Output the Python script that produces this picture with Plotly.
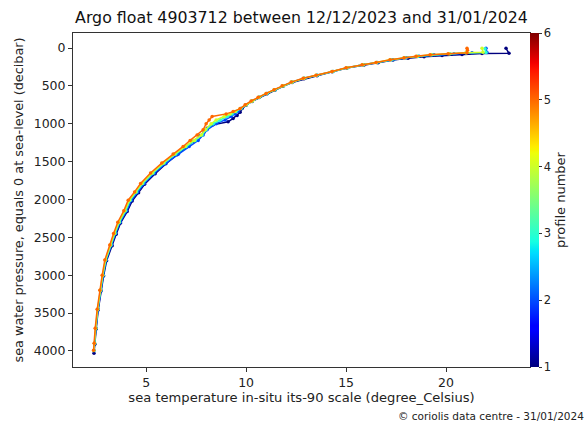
import plotly.graph_objects as go

# ---------------- data ----------------
profile_numbers = [1, 2, 3, 4, 5]

pres_1 = [5, 70, 72, 85, 100, 115, 135, 160, 195, 225, 265, 315, 365, 405, 455, 505, 555, 605, 655, 705, 755,
          800, 850, 890, 930, 975, 1015, 1060, 1110, 1160, 1230, 1310, 1410, 1530, 1660, 1800, 1910, 2020, 2160,
          2310, 2460, 2610, 2810, 3010, 3210, 3460, 3710, 3910, 4030]
temp_1 = [23.0, 23.15, 21.8, 20.8, 19.8, 18.9, 18.1, 17.35, 16.6, 15.9, 15.05, 14.3, 13.55, 12.9, 12.3, 11.85,
          11.45, 11.05, 10.65, 10.3, 10.0, 9.8, 9.7, 9.55, 9.35, 9.1, 8.35, 8.05, 7.9, 7.7, 7.35, 7.0, 6.55, 5.98,
          5.45, 4.92, 4.62, 4.3, 4.05, 3.72, 3.5, 3.3, 3.02, 2.87, 2.74, 2.6, 2.5, 2.43, 2.39]

pres_2 = [5, 60, 62, 75, 90, 110, 130, 155, 190, 220, 260, 310, 360, 400, 450, 500, 550, 600, 650, 700, 750,
          800, 840, 870, 905, 950, 1000, 1080, 1150, 1220, 1300, 1400, 1520, 1650, 1790, 1900, 2010, 2150, 2300,
          2450, 2600, 2800, 3000, 3200, 3450, 3700, 3900, 3995]
temp_2 = [22.0, 22.05, 21.3, 20.4, 19.4, 18.65, 18.0, 17.3, 16.55, 15.85, 15.05, 14.35, 13.55, 12.9, 12.3, 11.85,
          11.45, 11.05, 10.65, 10.3, 10.0, 9.75, 9.6, 9.45, 9.25, 8.95, 8.5, 8.05, 7.85, 7.6, 7.15, 6.62, 6.0, 5.42,
          4.9, 4.58, 4.26, 4.02, 3.7, 3.47, 3.27, 3.0, 2.86, 2.73, 2.59, 2.49, 2.42, 2.39]

pres_3 = [10, 60, 62, 75, 90, 110, 130, 155, 190, 220, 260, 310, 360, 400, 450, 500, 550, 600, 650, 700, 750,
          800, 840, 870, 905, 950, 1000, 1080, 1150, 1220, 1300, 1400, 1520, 1650, 1790, 1900, 2010, 2150, 2300,
          2450, 2600, 2800, 3000, 3200, 3450, 3700, 3900, 3995]
temp_3 = [21.95, 22.0, 21.0, 20.2, 19.3, 18.6, 17.95, 17.25, 16.55, 15.85, 15.05, 14.35, 13.55, 12.9, 12.3, 11.85,
          11.45, 11.05, 10.65, 10.3, 10.0, 9.75, 9.5, 9.3, 9.05, 8.7, 8.35, 8.0, 7.8, 7.45, 7.0, 6.48, 5.9, 5.35,
          4.83, 4.52, 4.2, 3.97, 3.66, 3.44, 3.24, 2.98, 2.84, 2.72, 2.58, 2.48, 2.42, 2.39]

pres_4 = [5, 55, 62, 75, 90, 110, 130, 155, 190, 220, 260, 310, 360, 400, 450, 500, 550, 600, 650, 700, 750,
          800, 840, 870, 905, 950, 1000, 1080, 1150, 1220, 1300, 1400, 1520, 1650, 1790, 1900, 2010, 2150, 2300,
          2450, 2600, 2800, 3000, 3200, 3450, 3700, 3900, 3995]
temp_4 = [21.8, 21.85, 21.0, 20.15, 19.25, 18.55, 17.9, 17.2, 16.5, 15.85, 15.05, 14.3, 13.5, 12.9, 12.3, 11.85,
          11.4, 11.0, 10.65, 10.3, 10.0, 9.7, 9.45, 9.2, 8.9, 8.5, 8.25, 7.95, 7.75, 7.4, 6.95, 6.42, 5.85, 5.3,
          4.78, 4.47, 4.16, 3.93, 3.63, 3.41, 3.21, 2.96, 2.82, 2.7, 2.57, 2.47, 2.41, 2.38]

pres_5 = [5, 30, 62, 75, 90, 110, 130, 155, 190, 220, 260, 310, 360, 400, 450, 500, 550, 600, 650, 700, 750,
          800, 840, 870, 905, 950, 1000, 1080, 1150, 1220, 1300, 1400, 1520, 1650, 1790, 1900, 2010, 2150, 2300,
          2450, 2600, 2800, 3000, 3200, 3450, 3700, 3900, 3990]
temp_5 = [21.05, 21.07, 21.05, 20.1, 19.2, 18.5, 17.9, 17.2, 16.5, 15.8, 15.0, 14.3, 13.5, 12.85, 12.25, 11.8,
          11.4, 11.0, 10.6, 10.25, 9.95, 9.7, 9.35, 9.0, 8.3, 8.15, 8.0, 7.85, 7.55, 7.2, 6.85, 6.35, 5.78, 5.22,
          4.72, 4.42, 4.1, 3.88, 3.58, 3.37, 3.18, 2.93, 2.8, 2.68, 2.55, 2.45, 2.4, 2.37]

pressures = [pres_1, pres_2, pres_3, pres_4, pres_5]
temperatures = [temp_1, temp_2, temp_3, temp_4, temp_5]

x_ticks = [5, 10, 15, 20]
y_ticks = [0, 500, 1000, 1500, 2000, 2500, 3000, 3500, 4000]
cbar_ticks = [1, 2, 3, 4, 5, 6]

# matplotlib "jet"-like colours
jet_scale = [
    [0.0, "rgb(0,0,127)"], [0.11, "rgb(0,0,255)"], [0.125, "rgb(0,0,255)"],
    [0.34, "rgb(0,219,255)"], [0.35, "rgb(0,230,247)"], [0.375, "rgb(21,255,226)"],
    [0.64, "rgb(238,255,8)"], [0.65, "rgb(247,245,0)"], [0.66, "rgb(255,236,0)"],
    [0.89, "rgb(255,19,0)"], [0.91, "rgb(244,0,0)"], [1.0, "rgb(127,0,0)"],
]
line_colors = {1: "#00007F", 2: "#004CFF", 3: "#29FFCE", 4: "#CEFF29", 5: "#FF6800"}

FONT = "DejaVu Sans"

fig = go.Figure()
for n, p, t in zip(profile_numbers, pressures, temperatures):
    fig.add_trace(go.Scatter(
        x=t, y=p, mode="lines+markers",
        line=dict(color=line_colors[n], width=1.5),
        marker=dict(size=3.5, color=[n] * len(p), coloraxis="coloraxis"),
        showlegend=False, name=f"profile {n}",
    ))

fig.update_layout(
    width=588, height=423,
    margin=dict(l=73, r=58, t=33, b=56),
    paper_bgcolor="white", plot_bgcolor="white",
    font=dict(family=FONT, size=12, color="#222"),
    title=dict(text="Argo float 4903712 between 12/12/2023 and 31/01/2024",
               x=0.5, xref="paper", xanchor="center", y=1 - 17 / 423, yanchor="middle",
               font=dict(family=FONT, size=15.8, color="#111")),
    coloraxis=dict(
        colorscale=jet_scale, cmin=1, cmax=6,
        colorbar=dict(
            x=1.0, xanchor="left", xpad=0, y=0.5, yanchor="middle", ypad=0,
            len=1, lenmode="fraction", thickness=9, outlinewidth=0,
            tickvals=cbar_ticks, ticks="outside", ticklen=3, tickcolor="#333",
            tickfont=dict(family=FONT, size=11.5, color="#222"),
            title=dict(text="profile number", side="right", font=dict(family=FONT, size=13, color="#222")),
        ),
    ),
    xaxis=dict(
        range=[1.34, 24.2], tickvals=x_ticks, showgrid=False, zeroline=False,
        showline=True, linecolor="#333", linewidth=1, mirror=True,
        ticks="outside", ticklen=4, tickcolor="#333",
        tickfont=dict(family=FONT, size=12.5, color="#222"),
        title=dict(text="sea temperature in-situ its-90 scale (degree_Celsius)", standoff=2,
                   font=dict(family=FONT, size=13.1, color="#222")),
    ),
    yaxis=dict(
        range=[4212, -198], tickvals=y_ticks, showgrid=False, zeroline=False,
        showline=True, linecolor="#333", linewidth=1, mirror=True,
        ticks="outside", ticklen=4, tickcolor="#333",
        tickfont=dict(family=FONT, size=12.5, color="#222"),
        title=dict(text="sea water pressure, equals 0 at sea-level (decibar)", standoff=7,
                   font=dict(family=FONT, size=12.8, color="#222")),
    ),
    annotations=[dict(
        text="© coriolis data centre - 31/01/2024", xref="paper", yref="paper",
        x=(586 - 73) / 457, y=(367 - 416) / 334, xanchor="right", yanchor="middle",
        showarrow=False, font=dict(family=FONT, size=10.5, color="#222"),
    )],
)

fig.write_html("out.html")
